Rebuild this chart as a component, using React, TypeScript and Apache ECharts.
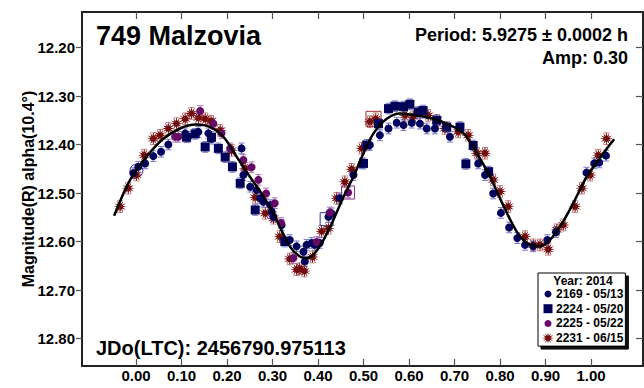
import React, { useEffect, useRef } from "react";
import * as echarts from "echarts";

const X_TICKS = [0, 0.1, 0.2, 0.3, 0.4, 0.5, 0.6, 0.7, 0.8, 0.9, 1.0];
const Y_TICKS = [12.2, 12.3, 12.4, 12.5, 12.6, 12.7, 12.8];
const SERIES_NAMES = ["2169 - 05/13", "2224 - 05/20", "2225 - 05/22", "2231 - 06/15"];

const S2169: number[][] = [
  [-0.006, 12.459], [0.005, 12.446], [0.02, 12.439], [0.038, 12.424], [0.055, 12.415], [0.071, 12.4],
  [0.108, 12.377], [0.115, 12.384], [0.137, 12.374], [0.159, 12.377], [0.166, 12.388], [0.232, 12.408],
  [0.236, 12.463], [0.251, 12.487], [0.265, 12.494], [0.273, 12.511], [0.28, 12.518], [0.295, 12.525],
  [0.298, 12.538], [0.302, 12.549], [0.32, 12.566], [0.338, 12.597], [0.353, 12.61], [0.368, 12.621],
  [0.371, 12.641], [0.375, 12.607], [0.386, 12.603], [0.393, 12.607], [0.404, 12.603], [0.423, 12.549],
  [0.43, 12.542], [0.448, 12.511], [0.478, 12.463], [0.496, 12.439], [0.514, 12.401], [0.536, 12.381],
  [0.555, 12.367], [0.573, 12.355], [0.588, 12.36], [0.606, 12.355], [0.624, 12.357], [0.639, 12.367],
  [0.657, 12.367], [0.69, 12.384], [0.752, 12.439], [0.767, 12.463], [0.785, 12.501], [0.802, 12.541],
  [0.82, 12.571], [0.838, 12.593], [0.855, 12.607], [0.873, 12.61], [0.904, 12.597], [0.923, 12.581],
  [0.99, 12.458], [1.007, 12.439], [1.018, 12.437], [1.033, 12.423]
];
const S2224: number[][] = [
  [0.111, 12.385], [0.13, 12.378], [0.152, 12.405], [0.166, 12.385], [0.181, 12.408], [0.196, 12.426],
  [0.212, 12.446], [0.229, 12.48], [0.262, 12.535], [0.327, 12.6], [0.5, 12.439], [0.507, 12.401],
  [0.533, 12.357], [0.555, 12.326], [0.569, 12.321], [0.588, 12.322], [0.602, 12.317], [0.62, 12.333],
  [0.631, 12.33], [0.661, 12.35], [0.683, 12.364], [0.712, 12.364], [0.725, 12.44], [0.741, 12.402],
  [0.775, 12.456]
];
const S2225: number[][] = [
  [0.086, 12.384], [0.093, 12.384], [0.141, 12.331], [0.17, 12.357], [0.188, 12.377], [0.207, 12.408],
  [0.236, 12.432], [0.254, 12.447], [0.269, 12.473], [0.286, 12.501], [0.305, 12.521], [0.319, 12.562],
  [0.346, 12.634], [0.397, 12.601], [0.426, 12.54], [0.466, 12.499]
];
const S2231: number[][] = [
  [-0.035, 12.528], [-0.017, 12.49], [0.001, 12.463], [0.018, 12.422], [0.038, 12.388], [0.053, 12.381],
  [0.071, 12.367], [0.089, 12.357], [0.108, 12.347], [0.122, 12.336], [0.137, 12.345], [0.152, 12.347],
  [0.165, 12.352], [0.185, 12.371], [0.21, 12.412], [0.24, 12.449], [0.262, 12.509], [0.284, 12.542],
  [0.302, 12.552], [0.316, 12.59], [0.338, 12.636], [0.353, 12.658], [0.36, 12.656], [0.37, 12.661],
  [0.388, 12.632], [0.408, 12.579], [0.423, 12.573], [0.441, 12.511], [0.459, 12.477], [0.474, 12.451],
  [0.496, 12.408], [0.514, 12.353], [0.527, 12.347], [0.591, 12.34], [0.609, 12.343], [0.642, 12.34],
  [0.661, 12.35], [0.679, 12.367], [0.708, 12.374], [0.73, 12.381], [0.749, 12.418], [0.767, 12.418],
  [0.785, 12.473], [0.8, 12.497], [0.818, 12.528], [0.855, 12.59], [0.873, 12.607], [0.888, 12.607],
  [0.906, 12.616], [0.925, 12.576], [0.939, 12.566], [0.965, 12.528], [0.98, 12.49], [0.998, 12.463],
  [1.016, 12.422], [1.034, 12.388]
];
// hollow (rejected) points: phase, magnitude
const HOLLOW_NAVY_CIRCLE: number[][] = [[0.001, 12.454]];
const HOLLOW_NAVY_SQUARE: number[][] = [[0.419, 12.554]];
const HOLLOW_PURPLE_SQUARE: number[][] = [[0.466, 12.499]];
const HOLLOW_RED_SQUARE: number[][] = [[0.522, 12.347]];

const FIT: number[][] = [
  [-0.048, 12.547], [-0.013, 12.473], [0.023, 12.425], [0.06, 12.388], [0.097, 12.367], [0.13, 12.359],
  [0.163, 12.364], [0.192, 12.384], [0.221, 12.425], [0.25, 12.466], [0.28, 12.507], [0.305, 12.548],
  [0.338, 12.61], [0.36, 12.631], [0.375, 12.634], [0.39, 12.627], [0.412, 12.597], [0.434, 12.555],
  [0.456, 12.508], [0.478, 12.466], [0.5, 12.418], [0.522, 12.377], [0.551, 12.347], [0.58, 12.336],
  [0.617, 12.34], [0.653, 12.347], [0.69, 12.36], [0.72, 12.377], [0.749, 12.418], [0.778, 12.466],
  [0.807, 12.525], [0.837, 12.58], [0.859, 12.603], [0.881, 12.61], [0.903, 12.603], [0.932, 12.569],
  [0.961, 12.521], [0.991, 12.466], [1.027, 12.418], [1.051, 12.389]
];

const ASTERISK =
  "path://M24 12L16.83 13.29L22.39 18L15.54 15.54L18 22.39L13.29 16.83L12 24L10.71 16.83L6 22.39L8.46 15.54L1.61 18L7.17 13.29L0 12L7.17 10.71L1.61 6L8.46 8.46L6 1.61L10.71 7.17L12 0L13.29 7.17L18 1.61L15.54 8.46L22.39 6L16.83 10.71Z";
const LEG_CIRCLE = "path://M0 0M12 12M6 2.5A3.5 3.5 0 1 1 5.99 2.5Z";
const LEG_SQUARE = "path://M0 0M12 12M1.5 1.5H10.5V10.5H1.5Z";

const FONT = "'Liberation Sans', Arial, sans-serif";

function errSeries(data: number[][], err: number, color: string) {
  return {
    type: "custom",
    silent: true,
    z: 1,
    data,
    encode: { x: 0, y: 1 },
    renderItem: (_p: any, api: any) => {
      const x = api.value(0);
      const y = api.value(1);
      const a = api.coord([x, y - err]);
      const b = api.coord([x, y + err]);
      const hw = 3;
      const style = { stroke: color, lineWidth: 1, fill: "none" };
      return {
        type: "group",
        children: [
          { type: "line", shape: { x1: a[0], y1: a[1], x2: b[0], y2: b[1] }, style },
          { type: "line", shape: { x1: a[0] - hw, y1: a[1], x2: a[0] + hw, y2: a[1] }, style },
          { type: "line", shape: { x1: b[0] - hw, y1: b[1], x2: b[0] + hw, y2: b[1] }, style },
        ],
      };
    },
  };
}

function hollow(data: number[][], symbol: string, size: number, color: string) {
  return {
    type: "scatter",
    silent: true,
    data,
    symbol,
    symbolSize: size,
    z: 2,
    itemStyle: { color: "rgba(0,0,0,0)", borderColor: color, borderWidth: 1, opacity: 1 },
  };
}

export default function App() {
  const ref = useRef<HTMLDivElement>(null);
  useEffect(() => {
    if (!ref.current) return;
    const chart = echarts.init(ref.current, undefined, { renderer: "svg" });
    const xMin = -0.1187;
    const xMax = 1.1143;
    const yMin = 12.1268;
    const yMax = 12.8567;
    const axisLine = { show: true, onZero: false, lineStyle: { color: "#222", width: 2 } };
    const tickStyle = { color: "#555", width: 1.2 };
    chart.setOption({
      animation: false,
      backgroundColor: "#fff",
      grid: { left: 82, right: 1, top: 12, bottom: 22 },
      xAxis: [
        {
          type: "value", min: xMin, max: xMax, position: "bottom",
          axisLine,
          splitLine: { show: false },
          axisTick: { show: true, inside: true, length: 7, lineStyle: tickStyle, customValues: X_TICKS },
          axisLabel: {
            customValues: X_TICKS, margin: 2,
            formatter: (v: number) => v.toFixed(2),
            fontFamily: FONT, fontWeight: "bold", fontSize: 15, color: "#000",
          },
        },
        {
          type: "value", min: xMin, max: xMax, position: "top",
          axisLine,
          splitLine: { show: false },
          axisTick: { show: true, inside: true, length: 7, lineStyle: tickStyle, customValues: X_TICKS },
          axisLabel: { show: false },
        },
      ],
      yAxis: [
        {
          type: "value", inverse: true, min: yMin, max: yMax, position: "left",
          axisLine,
          splitLine: { show: false },
          axisTick: { show: true, inside: false, length: 6, lineStyle: tickStyle, customValues: Y_TICKS },
          axisLabel: {
            customValues: Y_TICKS, margin: 7,
            formatter: (v: number) => v.toFixed(2),
            fontFamily: FONT, fontWeight: "bold", fontSize: 15, color: "#000",
          },
          name: "Magnitude(R) alpha(10.4°)",
          nameLocation: "middle",
          nameRotate: 90,
          nameGap: 46,
          nameMoveOverlap: false,
          nameTextStyle: { fontFamily: FONT, fontWeight: "bold", fontSize: 16, color: "#000" },
        },
        {
          type: "value", inverse: true, min: yMin, max: yMax, position: "right",
          axisLine,
          splitLine: { show: false },
          axisTick: { show: true, inside: true, length: 7, lineStyle: tickStyle, customValues: Y_TICKS },
          axisLabel: { show: false },
        },
      ],
      legend: {
        data: [
          { name: SERIES_NAMES[0], icon: LEG_CIRCLE },
          { name: SERIES_NAMES[1], icon: LEG_SQUARE },
          { name: SERIES_NAMES[2], icon: LEG_CIRCLE },
          { name: SERIES_NAMES[3], icon: ASTERISK },
        ],
        orient: "vertical",
        left: 538,
        top: 273,
        padding: [15, 2, 2, 4],
        itemGap: 2.7,
        itemWidth: 12,
        itemHeight: 12,
        backgroundColor: "#fff",
        borderColor: "#000",
        borderWidth: 1,
        borderRadius: 0,
        shadowColor: "rgba(0,0,0,0.95)",
        shadowBlur: 0,
        shadowOffsetX: 3,
        shadowOffsetY: 3,
        textStyle: { fontFamily: FONT, fontWeight: "bold", fontSize: 12, color: "#000", lineHeight: 12, padding: [0, 0, 0, -3] },
      },
      graphic: [
        { type: "text", left: 96, top: 22, z: 100, style: { text: "749 Malzovia", font: `bold 27px ${FONT}`, fill: "#000" } },
        { type: "text", right: 16, top: 26, z: 100, style: { text: "Period: 5.9275 ± 0.0002 h", font: `bold 18px ${FONT}`, fill: "#000" } },
        { type: "text", right: 16, top: 49, z: 100, style: { text: "Amp: 0.30", font: `bold 18px ${FONT}`, fill: "#000" } },
        { type: "text", left: 96, top: 338, z: 100, style: { text: "JDo(LTC): 2456790.975113", font: `bold 20px ${FONT}`, fill: "#000" } },
        { type: "text", x: 583, y: 281, z: 100, style: { text: "Year: 2014", font: `bold 12px ${FONT}`, fill: "#000", align: "center", verticalAlign: "middle" } },
      ],
      series: [
        errSeries(S2231, 0.012, "#c98080"),
        errSeries(S2169, 0.011, "#7878c8"),
        errSeries(S2224, 0.011, "#7878c8"),
        errSeries(S2225, 0.011, "#b070b0"),
        hollow(HOLLOW_NAVY_CIRCLE, "circle", 13, "#3030a0"),
        hollow(HOLLOW_NAVY_SQUARE, "rect", 13, "#3030a0"),
        hollow(HOLLOW_PURPLE_SQUARE, "rect", 13, "#8a2a8a"),
        hollow(HOLLOW_RED_SQUARE, "rect", 15, "#a03030"),
        { name: SERIES_NAMES[3], type: "scatter", data: S2231, symbol: ASTERISK, symbolSize: 13, z: 2, itemStyle: { color: "#740b0b", opacity: 1 } },
        { name: SERIES_NAMES[0], type: "scatter", data: S2169, symbol: "circle", symbolSize: 8, z: 2, itemStyle: { color: "#03035e", opacity: 1 } },
        { name: SERIES_NAMES[1], type: "scatter", data: S2224, symbol: "rect", symbolSize: 9, z: 2, itemStyle: { color: "#020258", opacity: 1 } },
        { name: SERIES_NAMES[2], type: "scatter", data: S2225, symbol: "circle", symbolSize: 8, z: 2, itemStyle: { color: "#650a65", opacity: 1 } },
        {
          type: "line", data: FIT, smooth: 0.35, showSymbol: false, symbol: "none", silent: true, z: 3,
          lineStyle: { color: "#000", width: 2.5 },
        },
      ],
    });
    return () => chart.dispose();
  }, []);
  return <div ref={ref} style={{ position: "fixed", left: 0, top: 0, width: 644, height: 388 }} />;
}
